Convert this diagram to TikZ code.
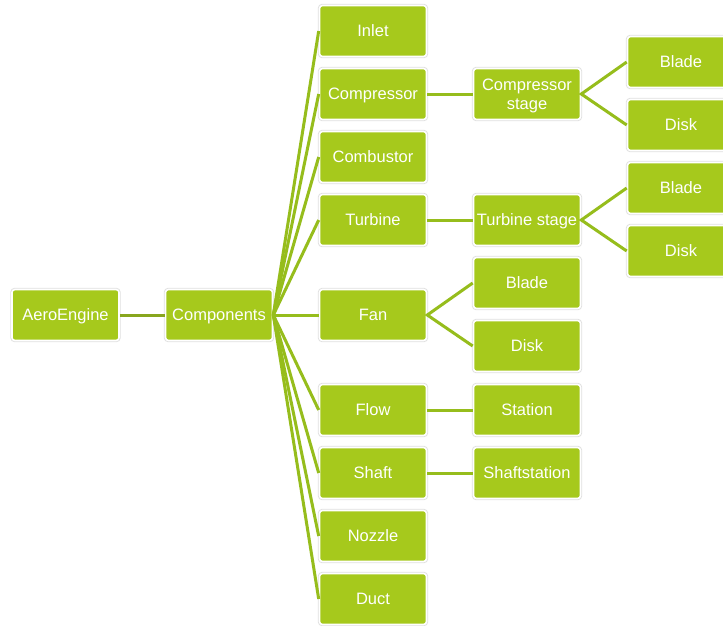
\documentclass[tikz,border=0pt]{standalone}
\usepackage{fontspec}
\setmainfont{Liberation Sans}
\definecolor{leaf}{RGB}{166,201,28}
\definecolor{branch}{RGB}{150,189,28}
\definecolor{trunk}{RGB}{136,166,30}
\definecolor{rim}{RGB}{224,224,224}
\tikzset{
  box/.style={rectangle, rounded corners=3pt, fill=leaf, draw=white, line width=1.6pt,
    minimum width=107pt, minimum height=51pt, inner sep=0pt, text=white, align=center,
    text height=14pt, text depth=3.2pt,
    font=\fontsize{16.5}{18.5}\selectfont,
    preaction={draw=rim, line width=3.4pt}},
  twoline/.style={text height=30.3pt, text depth=0pt},
  link/.style={draw=branch, line width=3pt},
  trunklink/.style={draw=trunk, line width=3pt}
}
\begin{document}
\begin{tikzpicture}[x=1pt, y=-1pt]
\useasboundingbox (0,0) rectangle (723,625);
\clip (0,0) rectangle (723,625);
\fill[white] (0,0) rectangle (723,625);

% root and its single child
\node[box] (root) at (65.5,315) {AeroEngine};
\node[box] (comp) at (219,315) {Components};

% component column
\node[box] (inlet)  at (373,31)  {Inlet};
\node[box] (cmp)    at (373,94)  {Compressor};
\node[box] (comb)   at (373,157) {Combustor};
\node[box] (turb)   at (373,220) {Turbine};
\node[box] (fan)    at (373,315) {Fan};
\node[box] (flow)   at (373,410) {Flow};
\node[box] (shaft)  at (373,473) {Shaft};
\node[box] (nozzle) at (373,536) {Nozzle};
\node[box] (duct)   at (373,599) {Duct};

% sub-components
\node[box, twoline] (cstage) at (527,94) {Compressor\\stage};
\node[box] (tstage)  at (527,220) {Turbine stage};
\node[box] (fblade)  at (527,283) {Blade};
\node[box] (fdisk)   at (527,346) {Disk};
\node[box] (station) at (527,410) {Station};
\node[box] (sstat)   at (527,473) {Shaftstation};

% stage parts
\node[box] (cblade) at (681,62)  {Blade};
\node[box] (cdisk)  at (681,125) {Disk};
\node[box] (tblade) at (681,188) {Blade};
\node[box] (tdisk)  at (681,251) {Disk};

% connectors
\draw[trunklink] (root.east) -- (comp.west);
\foreach \n in {inlet,cmp,comb,turb,fan,flow,shaft,nozzle,duct}
  \draw[link] (comp.east) -- (\n.west);
\draw[link] (cmp.east) -- (cstage.west);
\draw[link] (turb.east) -- (tstage.west);
\draw[link] (fblade.west) -- (fan.east) -- (fdisk.west);
\draw[link] (flow.east) -- (station.west);
\draw[link] (shaft.east) -- (sstat.west);
\draw[link] (cblade.west) -- (cstage.east) -- (cdisk.west);
\draw[link] (tblade.west) -- (tstage.east) -- (tdisk.west);
\end{tikzpicture}
\end{document}
